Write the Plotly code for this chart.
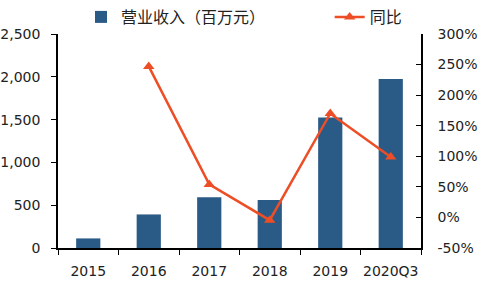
import plotly.graph_objects as go

categories = ["2015", "2016", "2017", "2018", "2019", "2020Q3"]
revenue = [112, 392, 594, 560, 1525, 1973]
yoy_cats = ["2016", "2017", "2018", "2019", "2020Q3"]
yoy = [247, 54, -4.5, 170, 99]
y2_ticks = [-50, 0, 50, 100, 150, 200, 250, 300]
y2_labels = [f"{v}%" for v in y2_ticks]

bar_color = "#2A5A86"
line_color = "#EE4E25"
font_fam = "DejaVu Sans, Verdana, sans-serif"
cjk = "Noto Sans CJK SC"
tick_size = 14

fig = go.Figure()
fig.add_trace(go.Bar(x=categories, y=revenue, name="营业收入（百万元）",
                     marker=dict(color=bar_color, line=dict(width=0)),
                     width=0.4, yaxis="y", legend="legend"))
fig.add_trace(go.Scatter(x=yoy_cats, y=yoy, name="同比", mode="lines+markers",
                         line=dict(color=line_color, width=2.5),
                         marker=dict(symbol="triangle-up", size=10, color=line_color),
                         yaxis="y2", legend="legend2"))

leg_common = dict(orientation="h", xanchor="left", yanchor="top",
                  xref="container", yref="container", y=1.0,
                  font=dict(family=cjk, size=16, color="#222"),
                  bgcolor="rgba(0,0,0,0)", itemwidth=30)

fig.update_layout(
    width=482, height=283,
    margin=dict(l=58, r=61, t=0, b=35),
    paper_bgcolor="white", plot_bgcolor="white",
    font=dict(family=font_fam, size=tick_size, color="#222"),
    showlegend=True,
    legend=dict(x=0.168, **leg_common),
    legend2=dict(x=0.684, **leg_common),
    xaxis=dict(type="category", categoryorder="array", categoryarray=categories,
               showline=True, linecolor="black", linewidth=1.5,
               ticks="outside", tickson="boundaries", ticklen=5, tickcolor="black",
               showgrid=False, tickfont=dict(size=tick_size), tickangle=0,
               automargin=False, ticklabelstandoff=9),
    yaxis=dict(range=[0, 2500], tickvals=[0, 500, 1000, 1500, 2000, 2500],
               tickformat=",d", showline=True, linecolor="black", linewidth=1.5,
               ticks="outside", ticklen=5, tickcolor="black", showgrid=False,
               zeroline=False, tickfont=dict(size=tick_size), automargin=False,
               ticklabelstandoff=8),
    yaxis2=dict(range=[-50, 300], tickvals=y2_ticks, ticktext=y2_labels,
                overlaying="y", side="right",
                showline=True, linecolor="black", linewidth=1.5,
                ticks="inside", ticklen=5, tickcolor="black", showgrid=False,
                zeroline=False, tickfont=dict(size=tick_size), automargin=False,
                ticklabelstandoff=12),
    bargap=0.6,
)

fig.write_html("out.html")
